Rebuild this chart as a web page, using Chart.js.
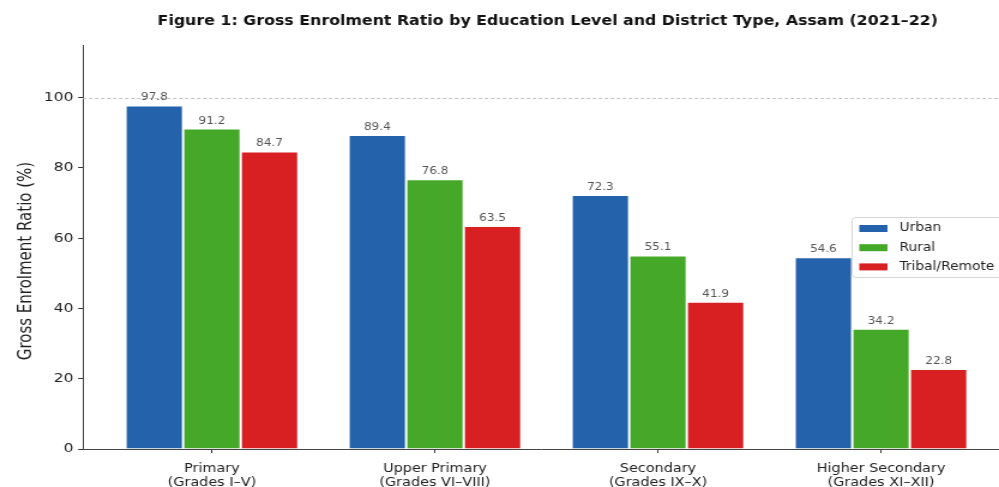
<!DOCTYPE html>
<html>
<head>
<meta charset="utf-8">
<script src="https://cdn.jsdelivr.net/npm/chart.js@4.4.1/dist/chart.umd.min.js"></script>
<style>
  html, body { margin: 0; padding: 0; background: #fff; overflow: hidden; }
  #wrap { width: 833px; height: 487px; transform: scaleX(1.1993); transform-origin: 0 0; }
  canvas { display: block; }
</style>
</head>
<body>
<div id="wrap"><canvas id="c" width="833" height="487"></canvas></div>
<script>
// Gross Enrolment Ratio (%), Assam 2021–22
const categories = [
  ["Primary", "(Grades I–V)"],
  ["Upper Primary", "(Grades VI–VIII)"],
  ["Secondary", "(Grades IX–X)"],
  ["Higher Secondary", "(Grades XI–XII)"]
];
const seriesNames = ["Urban", "Rural", "Tribal/Remote"];
const urban  = [97.8, 89.4, 72.3, 54.6];
const rural  = [91.2, 76.8, 55.1, 34.2];
const tribal = [84.7, 63.5, 41.9, 22.8];
const yTicks = [0, 20, 40, 60, 80, 100];
const refLine = 100;

const colors = ["#2462ab", "#45a828", "#d81f21"];
const titleText = "Figure 1: Gross Enrolment Ratio by Education Level and District Type, Assam (2021–22)";

const seriesValues = [urban, rural, tribal];
const datasets = seriesValues.map((vals, k) => ({
  label: seriesNames[k],
  data: vals.map((v, i) => ({ x: i, y: v })),
  backgroundColor: colors[k],
  borderColor: "#ffffff",
  borderWidth: 1,
  categoryPercentage: 0.775,
  barPercentage: 1.0
}));

// dashed reference line at 100%
const refLinePlugin = {
  id: "refLine",
  beforeDatasetsDraw(chart) {
    const ctx = chart.ctx, area = chart.chartArea;
    const y = Math.round(chart.scales.y.getPixelForValue(refLine)) + 0.5;
    ctx.save();
    ctx.strokeStyle = "#c4c4c4";
    ctx.lineWidth = 1;
    ctx.setLineDash([3, 2]);
    ctx.beginPath();
    ctx.moveTo(area.left, y);
    ctx.lineTo(area.right, y);
    ctx.stroke();
    ctx.restore();
  }
};

// title, y-axis label, value labels and the legend box
const decorations = {
  id: "decorations",
  afterDatasetsDraw(chart) {
    const ctx = chart.ctx;
    ctx.save();

    // value labels above bars
    ctx.fillStyle = "#555";
    ctx.font = "10px 'DejaVu Sans'";
    ctx.textAlign = "center";
    ctx.textBaseline = "alphabetic";
    chart.data.datasets.forEach((ds, k) => {
      chart.getDatasetMeta(k).data.forEach((bar, i) => {
        ctx.fillText(seriesValues[k][i].toFixed(1), bar.x, bar.y - 5);
      });
    });

    // title
    ctx.fillStyle = "#111";
    ctx.font = "bold 13.2px 'DejaVu Sans'";
    ctx.textAlign = "center";
    ctx.textBaseline = "middle";
    ctx.fillText(titleText, 456.7, 22);

    // y-axis label
    ctx.save();
    ctx.translate(22, 261);
    ctx.rotate(-Math.PI / 2);
    ctx.font = "15px 'DejaVu Sans'";
    ctx.fillStyle = "#222";
    ctx.textAlign = "center";
    ctx.textBaseline = "middle";
    ctx.fillText("Gross Enrolment Ratio (%)", 0, 0);
    ctx.restore();

    // legend
    const lx = 710.5, ly = 217.5, lw = 140, lh = 60;
    ctx.fillStyle = "rgba(255,255,255,0.9)";
    ctx.strokeStyle = "#d6d6d6";
    ctx.lineWidth = 1;
    ctx.beginPath();
    ctx.roundRect(lx, ly, lw, lh, 3);
    ctx.fill();
    ctx.stroke();
    ctx.font = "11.5px 'DejaVu Sans'";
    ctx.textAlign = "left";
    ctx.textBaseline = "middle";
    seriesNames.forEach((name, k) => {
      const y = 228 + k * 19.2;
      ctx.fillStyle = colors[k];
      ctx.fillRect(716.5, y - 3, 23.5, 7);
      ctx.fillStyle = "#222";
      ctx.fillText(name, 750, y + 0.5);
    });

    ctx.restore();
  }
};

new Chart(document.getElementById("c"), {
  type: "bar",
  data: { datasets },
  options: {
    responsive: false,
    animation: false,
    devicePixelRatio: 1,
    layout: { padding: { top: 45, right: 0, left: 0, bottom: 0 } },
    plugins: {
      legend: { display: false },
      title: { display: false },
      tooltip: { enabled: false }
    },
    scales: {
      x: {
        type: "linear",
        min: -0.578,
        max: 3.529,
        offset: false,
        afterFit: s => { s.height = 38; },
        afterBuildTicks: s => { s.ticks = categories.map((c, i) => ({ value: i })); },
        ticks: {
          autoSkip: false,
          maxRotation: 0,
          padding: 8.5,
          color: "#222",
          font: { family: "DejaVu Sans", size: 12, lineHeight: 1.17 },
          callback: v => categories[v]
        },
        grid: {
          offset: false,
          drawOnChartArea: false,
          drawTicks: true,
          tickLength: 4,
          tickColor: "#333"
        },
        border: { display: true, color: "#444", width: 1 }
      },
      y: {
        min: 0,
        max: 115,
        afterFit: s => { s.width = 69.2; },
        afterBuildTicks: s => { s.ticks = yTicks.map(v => ({ value: v })); },
        ticks: {
          padding: 4,
          color: "#222",
          font: { family: "DejaVu Sans", size: 13 }
        },
        grid: {
          drawOnChartArea: false,
          drawTicks: true,
          tickLength: 4,
          tickColor: "#333"
        },
        border: { display: true, color: "#444", width: 1 }
      }
    }
  },
  plugins: [refLinePlugin, decorations]
});
</script>
</body>
</html>
